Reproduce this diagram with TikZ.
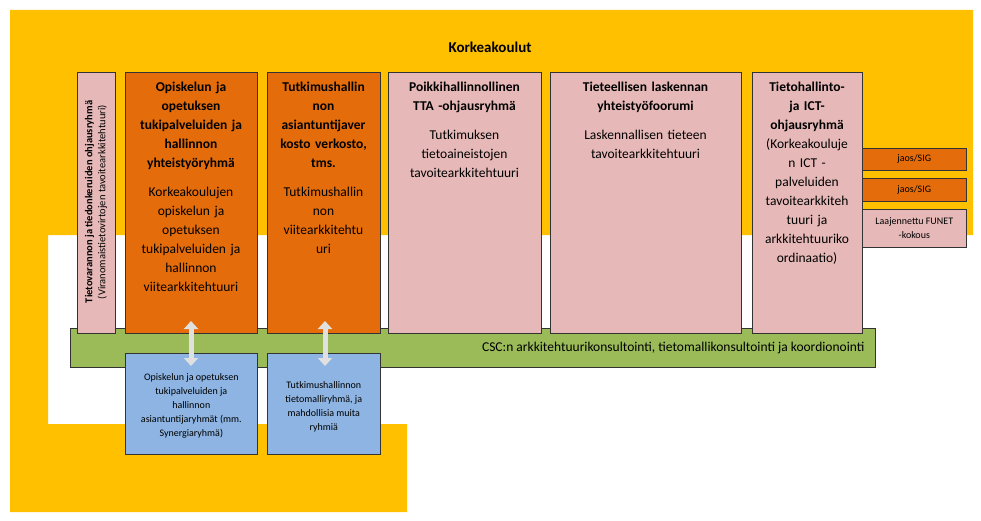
\documentclass[tikz,border=0pt]{standalone}
\usepackage{fontspec}
\setmainfont{Carlito}
\usetikzlibrary{arrows.meta}
\definecolor{yel}{HTML}{FFC000}
\definecolor{ora}{HTML}{E46C0A}
\definecolor{pnk}{HTML}{E6B9B8}
\definecolor{grn}{HTML}{9BBB59}
\definecolor{blu}{HTML}{8DB4E2}
\tikzset{
 box/.style={draw=black!80, line width=0.6pt, anchor=north west, inner sep=0pt},
 txt/.style={align=center, font=\fontsize{13.5}{19}\selectfont, anchor=north},
 small/.style={align=center, font=\fontsize{10}{14}\selectfont},
 dbl/.style={{Triangle[width=14pt,length=8pt]}-{Triangle[width=14pt,length=8pt]}, line width=5pt, draw=black!12}
}
\begin{document}
\begin{tikzpicture}[x=1pt,y=-1pt]
\useasboundingbox (0,0) rectangle (981,521);
\fill[white] (0,0) rectangle (981,521);
\fill[yel] (10,10) -- (973,10) -- (973,235) -- (48,235) -- (48,424) -- (407,424) -- (407,512) -- (10,512) -- cycle;
\node[font=\bfseries\fontsize{15}{18}\selectfont] (title) at (490,47) {Korkeakoulut};
% green bar
\node[box, fill=grn, minimum width=805pt, minimum height=39pt] (csc) at (70,328) {};
\node[anchor=east, font=\fontsize{13.5}{16}\selectfont] (csct) at (868,347.5) {CSC:n arkkitehtuurikonsultointi, tietomallikonsultointi ja koordionointi};
% columns
\node[box, fill=pnk, minimum width=38pt, minimum height=261pt] (c0) at (77,72) {};
\node[rotate=90, align=center, font=\fontsize{10.5}{13}\selectfont] (c0t) at (96,202) {\textbf{Tietovarannon ja tiedonkeruiden ohjausryhmä}\\(Viranomaistietovirtojen tavoitearkkitehtuuri)};
\node[box, fill=ora, minimum width=132pt, minimum height=261pt] (c1) at (125,72) {};
\node[txt, text width=130pt] (c1t) at (191,78) {\textbf{Opiskelun ja}\\\textbf{opetuksen}\\\textbf{tukipalveluiden ja}\\\textbf{hallinnon}\\\textbf{yhteistyöryhmä}\\[10pt]Korkeakoulujen\\opiskelun ja\\opetuksen\\tukipalveluiden ja\\hallinnon\\viitearkkitehtuuri};
\node[box, fill=ora, minimum width=113pt, minimum height=261pt] (c2) at (267,72) {};
\node[txt, text width=112pt] (c2t) at (323.5,78) {\textbf{Tutkimushallin}\\\textbf{non}\\\textbf{asiantuntijaver}\\\textbf{kosto verkosto,}\\\textbf{tms.}\\[10pt]Tutkimushallin\\non\\viitearkkitehtu\\uri};
\node[box, fill=pnk, minimum width=153pt, minimum height=261pt] (c3) at (388,72) {};
\node[txt, text width=150pt] (c3t) at (464.5,78) {\textbf{Poikkihallinnollinen}\\\textbf{TTA -ohjausryhmä}\\[10pt]Tutkimuksen\\tietoaineistojen\\tavoitearkkitehtuuri};
\node[box, fill=pnk, minimum width=191pt, minimum height=261pt] (c4) at (550,72) {};
\node[txt, text width=188pt] (c4t) at (645.5,78) {\textbf{Tieteellisen laskennan}\\\textbf{yhteistyöfoorumi}\\[10pt]Laskennallisen tieteen\\tavoitearkkitehtuuri};
\node[box, fill=pnk, minimum width=110pt, minimum height=261pt] (c5) at (752,72) {};
\node[txt, text width=110pt] (c5t) at (807,78) {\textbf{Tietohallinto-}\\\textbf{ja ICT-}\\\textbf{ohjausryhmä}\\(Korkeakouluje\\n ICT -\\palveluiden\\tavoitearkkiteh\\tuuri ja\\arkkitehtuuriko\\ordinaatio)};
% side boxes
\node[box, fill=ora, minimum width=104pt, minimum height=22pt, small] (s1) at (862,148) {};
\node[small] at (s1.center) {jaos/SIG};
\node[box, fill=ora, minimum width=104pt, minimum height=23pt] (s2) at (862,178) {};
\node[small] at (s2.center) {jaos/SIG};
\node[box, fill=pnk, minimum width=104pt, minimum height=38pt] (s3) at (862,209) {};
\node[small] at (s3.center) {Laajennettu FUNET\\-kokous};
% blue boxes
\node[box, fill=blu, minimum width=132pt, minimum height=101pt] (b1) at (125,353) {};
\node[small] at ([yshift=-2pt]b1.center) {Opiskelun ja opetuksen\\tukipalveluiden ja\\hallinnon\\asiantuntijaryhmät (mm.\\Synergiaryhmä)};
\node[box, fill=blu, minimum width=113pt, minimum height=101pt] (b2) at (267,353) {};
\node[small] at ([yshift=-3pt]b2.center) {Tutkimushallinnon\\tietomalliryhmä, ja\\mahdollisia muita\\ryhmiä};
% arrows
\coordinate (a1t) at (191,321); \coordinate (a1b) at (191,366);
\coordinate (a2t) at (325,321); \coordinate (a2b) at (325,366);
\draw[dbl] (a1t) -- (a1b);
\draw[dbl] (a2t) -- (a2b);
\end{tikzpicture}
\end{document}
